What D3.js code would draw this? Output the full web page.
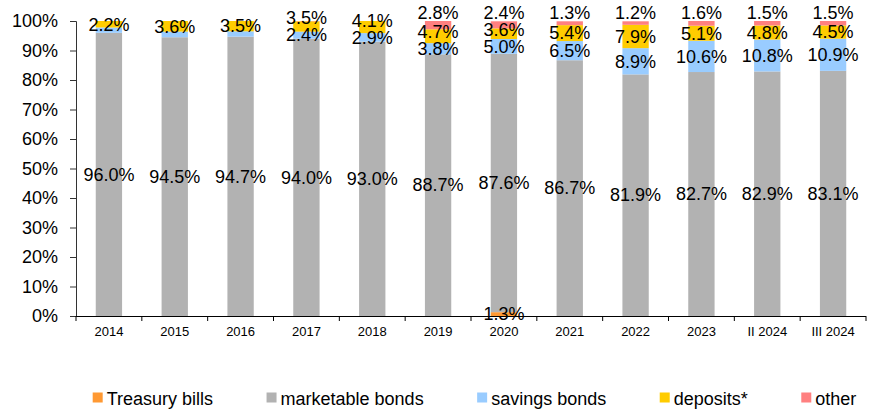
<!DOCTYPE html>
<html>
<head>
<meta charset="utf-8">
<script src="https://cdn.jsdelivr.net/npm/d3@7"></script>
<style>
  body { margin: 0; background: #fff; }
  text { font-family: "Liberation Sans", Arial, sans-serif; }
</style>
</head>
<body>
<div id="vis"></div>
<script>
// data
var years = ["2014","2015","2016","2017","2018","2019","2020","2021","2022","2023","II 2024","III 2024"]
var treasuryBills = [0,0,0,0,0,0,1.3,0,0,0,0,0]
var marketableBonds = [96.0,94.5,94.7,94.0,93.0,88.7,87.6,86.7,81.9,82.7,82.9,83.1]
var savingsBonds = [1.8,1.9,1.8,2.4,2.9,3.8,5.0,6.5,8.9,10.6,10.8,10.9]
var deposits = [2.2,3.6,3.5,3.5,4.1,4.7,3.6,5.4,7.9,5.1,4.8,4.5]
var other = [0,0,0,0.1,0,2.8,2.4,1.3,1.2,1.6,1.5,1.5]
var yTicks = [0,10,20,30,40,50,60,70,80,90,100]

var keys = ["tb","mb","sb","dep","oth"]
var names = {tb:"Treasury bills", mb:"marketable bonds", sb:"savings bonds", dep:"deposits*", oth:"other"}
var colors = {tb:"#FF9933", mb:"#B2B2B2", sb:"#99CCFF", dep:"#FFCC00", oth:"#FF8080"}
// labels left out in the original
var hidden = ["sb|2014","sb|2015","sb|2016"]

var table = years.map((y,i)=>({year:y, tb:treasuryBills[i], mb:marketableBonds[i], sb:savingsBonds[i], dep:deposits[i], oth:other[i]}))

//measurements
var width = 878, height = 410
var mLeft = 76, mRight = 866, mTop = 21, mBottom = 316

var x = d3.scaleBand()
  .domain(years)
  .range([mLeft,mRight])
  .padding(0)

var y = d3.scaleLinear()
  .domain([0,100])
  .range([mBottom,mTop])

var barW = x.bandwidth()*0.4

var svg = d3.select("#vis")
  .append("svg")
  .attr("width",width)
  .attr("height",height)

var series = d3.stack().keys(keys)(table)

//bars
svg.append("g")
  .selectAll("g")
  .data(series)
  .enter()
  .append("g")
  .attr("fill",d=>colors[d.key])
  .selectAll("rect")
  .data(d=>d)
  .enter()
  .append("rect")
  .attr("x",d=>x(d.data.year)+x.bandwidth()/2-barW/2)
  .attr("y",d=>y(d[1]))
  .attr("width",barW)
  .attr("height",d=>y(d[0])-y(d[1]))

//axes
var yAxis = svg.append("g")
  .attr("transform",`translate(${mLeft},0)`)
  .call(d3.axisLeft(y).tickValues(yTicks).tickFormat(d=>d+"%").tickSize(6).tickPadding(12))
yAxis.selectAll("text").style("font-size","18px").attr("fill","#000")
yAxis.selectAll("path,line").attr("stroke","#333")

var xAxis = svg.append("g")
  .attr("transform",`translate(0,${mBottom})`)
  .call(d3.axisBottom(x).tickSize(0).tickPadding(11))
xAxis.selectAll("text").style("font-size","13px").attr("fill","#000")
xAxis.select("path").attr("stroke","#000").attr("d",`M${mLeft},0.5H${mRight}`)
// ticks between categories
xAxis.selectAll(".sep")
  .data(years.concat([null]))
  .enter()
  .append("line")
  .attr("x1",(d,i)=>mLeft+i*x.step())
  .attr("x2",(d,i)=>mLeft+i*x.step())
  .attr("y1",0)
  .attr("y2",5)
  .attr("stroke","#000")

//labels
var labels = []
table.forEach((row,i)=>{
  var cx = x(row.year)+x.bandwidth()/2
  var pos = {}
  var show = {}
  keys.forEach((k,j)=>{
    var s = series[j][i]
    pos[k] = (y(s[0])+y(s[1]))/2
    show[k] = row[k] >= 1 && hidden.indexOf(k+"|"+row.year) < 0
  })
  // other sits above the bar
  pos.oth = y(100)-8.5
  // deposits pushed up when too close to savings
  if (show.sb && pos.sb-pos.dep < 17) pos.dep = pos.sb-17
  keys.forEach(k=>{
    if (!show[k]) return
    labels.push({x:cx, y:pos[k], t:row[k].toFixed(1)+"%"})
  })
})

svg.append("g")
  .selectAll("text")
  .data(labels)
  .enter()
  .append("text")
  .attr("x",d=>d.x)
  .attr("y",d=>d.y)
  .attr("dy","0.35em")
  .attr("text-anchor","middle")
  .style("font-size","18px")
  .attr("fill","#000")
  .text(d=>d.t)

//legend
var legend = svg.append("g")
var lx = 0, gap = 53.5
var items = legend.selectAll("g")
  .data(keys)
  .enter()
  .append("g")
items.append("rect")
  .attr("y",392.5)
  .attr("width",10)
  .attr("height",10)
  .attr("fill",d=>colors[d])
items.append("text")
  .attr("x",14)
  .attr("y",405)
  .style("font-size","18px")
  .attr("fill","#000")
  .text(d=>names[d])
items.each(function(){
  d3.select(this).attr("transform",`translate(${lx},0)`)
  lx += 14 + d3.select(this).select("text").node().getComputedTextLength() + gap
})
lx -= gap
legend.attr("transform",`translate(${474.5-lx/2},0)`)
</script>
</body>
</html>
